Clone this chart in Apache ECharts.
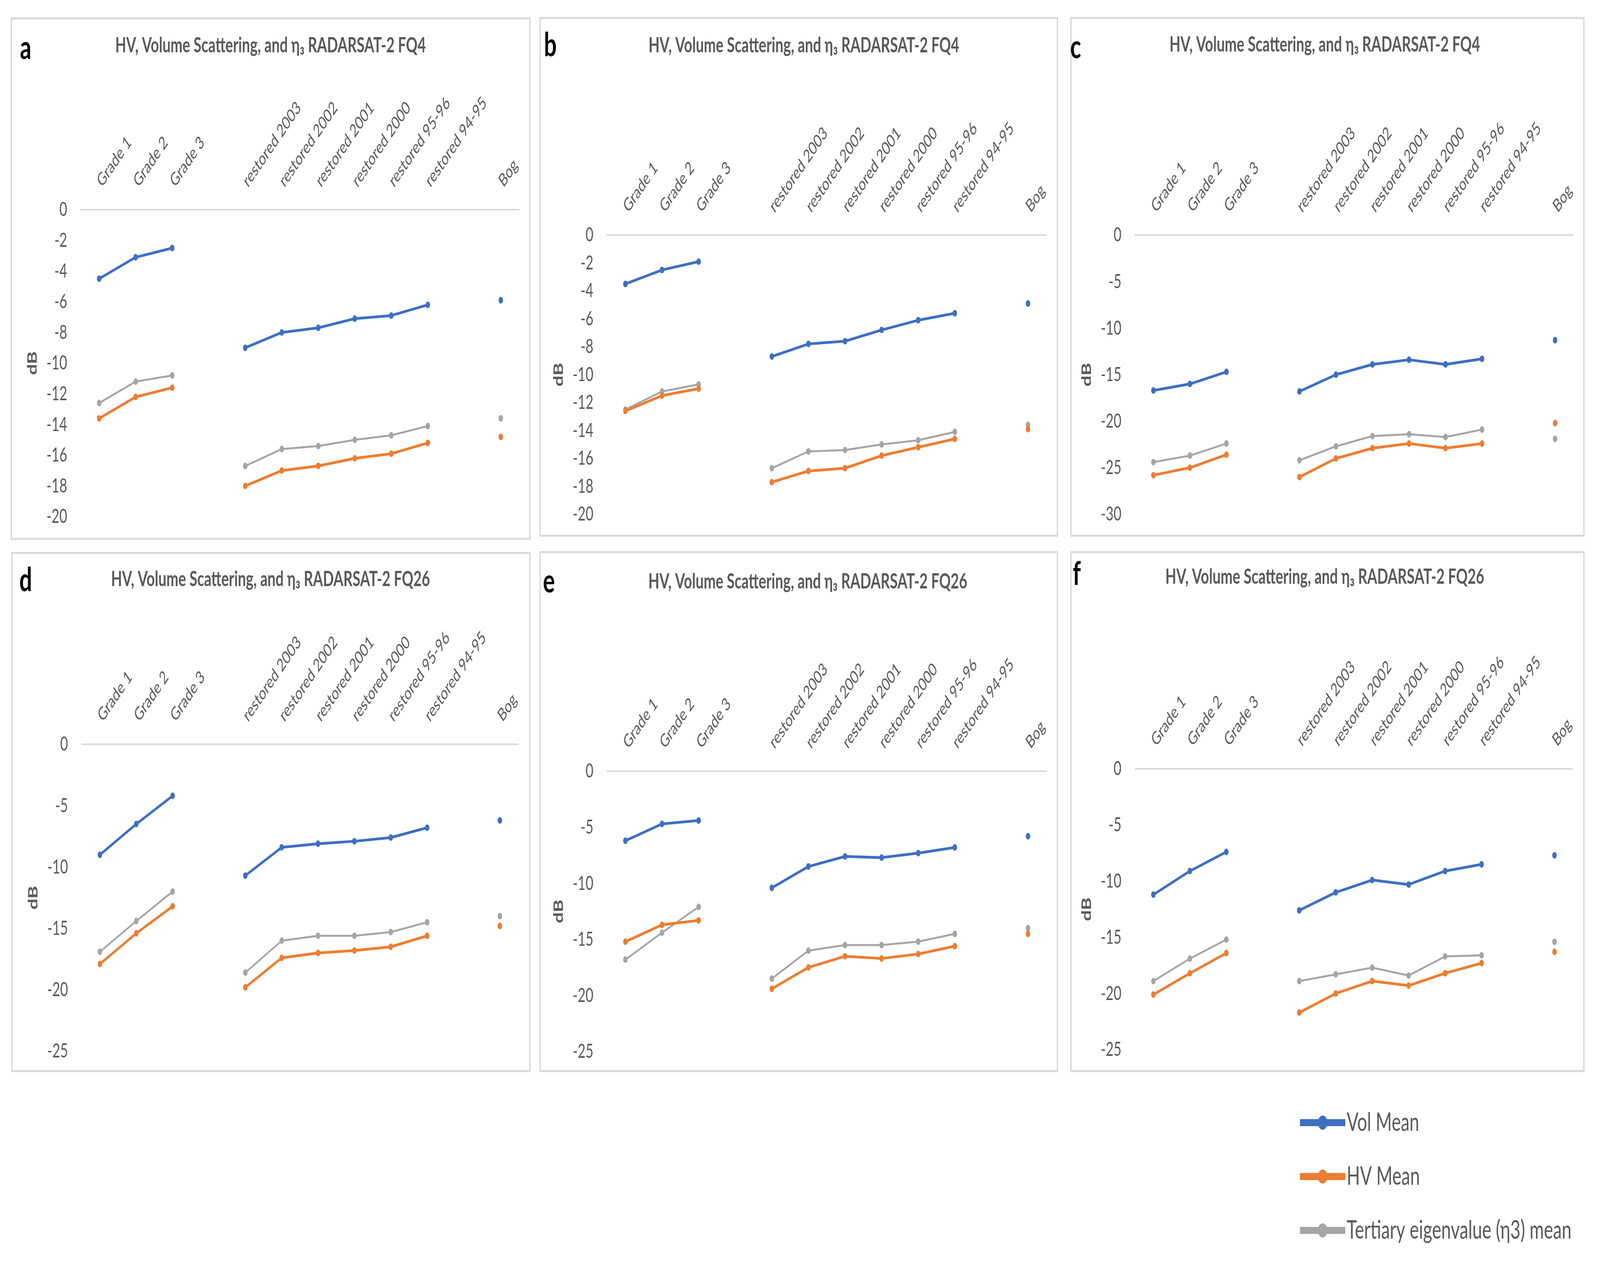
<!DOCTYPE html>
<html><head><meta charset="utf-8">
<script src="https://cdn.jsdelivr.net/npm/echarts@6/dist/echarts.min.js"></script>
<style>
html,body{margin:0;padding:0;background:#fff;overflow:hidden}
#wrap{position:absolute;left:0;top:0;overflow:hidden}
#c{width:6051px;height:3237px;transform-origin:0 0;position:absolute;left:0;top:0}
</style>
</head><body><div id="wrap"><div id="c"></div></div><script>
// ---- categories (blank slots separate the groups) ----
const categories = ['Grade 1','Grade 2','Grade 3','','restored 2003','restored 2002','restored 2001','restored 2000','restored 95-96','restored 94-95','','Bog'];
const seriesNames = ['Vol Mean','HV Mean','Tertiary eigenvalue (η3) mean'];
const panelTitles = ['HV, Volume Scattering, and η₃ RADARSAT-2 FQ4','HV, Volume Scattering, and η₃ RADARSAT-2 FQ4','HV, Volume Scattering, and η₃ RADARSAT-2 FQ4',
  'HV, Volume Scattering, and η₃ RADARSAT-2 FQ26','HV, Volume Scattering, and η₃ RADARSAT-2 FQ26','HV, Volume Scattering, and η₃ RADARSAT-2 FQ26'];
const panelLetters = ['a','b','c','d','e','f'];
// y-axis ranges [min, max, interval]
const yRanges = [[-20,0,2],[-20,0,2],[-30,0,5],[-25,0,5],[-25,0,5],[-25,0,5]];

// ---- values (dB) ----
const volA = [-4.5,-3.1,-2.5,null,-9.0,-8.0,-7.7,-7.1,-6.9,-6.2,null,-5.9];
const hvA  = [-13.6,-12.2,-11.6,null,-18.0,-17.0,-16.7,-16.2,-15.9,-15.2,null,-14.8];
const etaA = [-12.6,-11.2,-10.8,null,-16.7,-15.6,-15.4,-15.0,-14.7,-14.1,null,-13.6];

const volB = [-3.5,-2.5,-1.9,null,-8.7,-7.8,-7.6,-6.8,-6.1,-5.6,null,-4.9];
const hvB  = [-12.6,-11.5,-11.0,null,-17.7,-16.9,-16.7,-15.8,-15.2,-14.6,null,-13.9];
const etaB = [-12.5,-11.2,-10.7,null,-16.7,-15.5,-15.4,-15.0,-14.7,-14.1,null,-13.6];

const volC = [-16.7,-16.0,-14.7,null,-16.8,-15.0,-13.9,-13.4,-13.9,-13.3,null,-11.3];
const hvC  = [-25.8,-25.0,-23.6,null,-26.0,-24.0,-22.9,-22.4,-22.9,-22.4,null,-20.2];
const etaC = [-24.4,-23.7,-22.4,null,-24.2,-22.7,-21.6,-21.4,-21.7,-20.9,null,-21.9];

const volD = [-9.0,-6.5,-4.2,null,-10.7,-8.4,-8.1,-7.9,-7.6,-6.8,null,-6.2];
const hvD  = [-17.9,-15.4,-13.2,null,-19.8,-17.4,-17.0,-16.8,-16.5,-15.6,null,-14.8];
const etaD = [-16.9,-14.4,-12.0,null,-18.6,-16.0,-15.6,-15.6,-15.3,-14.5,null,-14.0];

const volE = [-6.2,-4.7,-4.4,null,-10.4,-8.5,-7.6,-7.7,-7.3,-6.8,null,-5.8];
const hvE  = [-15.2,-13.7,-13.3,null,-19.4,-17.5,-16.5,-16.7,-16.3,-15.6,null,-14.5];
const etaE = [-16.8,-14.4,-12.1,null,-18.5,-16.0,-15.5,-15.5,-15.2,-14.5,null,-14.0];

const volF = [-11.2,-9.1,-7.4,null,-12.6,-11.0,-9.9,-10.3,-9.1,-8.5,null,-7.7];
const hvF  = [-20.1,-18.2,-16.4,null,-21.7,-20.0,-18.9,-19.3,-18.2,-17.3,null,-16.3];
const etaF = [-18.9,-16.9,-15.2,null,-18.9,-18.3,-17.7,-18.4,-16.7,-16.6,null,-15.4];

const panelData = [[volA,hvA,etaA],[volB,hvB,etaB],[volC,hvC,etaC],[volD,hvD,etaD],[volE,hvE,etaE],[volF,hvF,etaF]];

// ---- layout / style (design space 6051 x 3237) ----
const colors = ['#3E6FC2','#ED7D31','#A5A5A5'];
const lineWidths = [7,7,5];
const FONT = 'Lato, "Open Sans", sans-serif';
const TXT = '#595959';
const layout = [
  {grid:{left:306,top:537,width:1657,height:786}, box:[43,47,1961,1333], title:[1023,117], letter:[97,124]},
  {grid:{left:2296,top:602,width:1661,height:715}, box:[2043,46,1956,1326], title:[3040,117], letter:[2081,117]},
  {grid:{left:4293,top:602,width:1657,height:715}, box:[4050,46,1940,1326], title:[5010,115], letter:[4068,122]},
  {grid:{left:309,top:1906,width:1650,height:786}, box:[45,1416,1959,1327], title:[1023,1484], letter:[97,1487]},
  {grid:{left:2296,top:1975,width:1661,height:718}, box:[2043,1414,1956,1329], title:[3055,1490], letter:[2076,1490]},
  {grid:{left:4293,top:1969,width:1655,height:719}, box:[4050,1414,1940,1329], title:[5010,1478], letter:[4072,1471]}
];

// fit the 6051x3237 design into the actual window
const W = window.innerWidth, H = window.innerHeight;
const wrap = document.getElementById('wrap');
wrap.style.width = W + 'px'; wrap.style.height = H + 'px';
document.getElementById('c').style.transform = 'scale(' + (W/6051) + ',' + (H/3237) + ')';

const grids=[], xAxes=[], yAxes=[], series=[], graphics=[];
layout.forEach((L,i)=>{
  grids.push(L.grid);
  xAxes.push({type:'category', gridIndex:i, position:'top', data:categories, boundaryGap:true,
    axisLine:{show:true, lineStyle:{color:'#d9d9d9', width:4}}, axisTick:{show:false},
    axisLabel:{interval:0, rotate:45, margin:66, color:TXT, fontSize:46, fontFamily:FONT}, splitLine:{show:false}});
  const r = yRanges[i];
  yAxes.push({type:'value', gridIndex:i, min:r[0], max:r[1], interval:r[2],
    axisLine:{show:false}, axisTick:{show:false}, splitLine:{show:false},
    axisLabel:{color:TXT, fontSize:51, fontFamily:FONT, margin:52},
    name:'dB', nameLocation:'middle', nameRotate:90, nameGap:158,
    nameTextStyle:{color:TXT, fontSize:50, fontWeight:'bold', fontFamily:FONT}});
  panelData[i].forEach((d,k)=>{
    series.push({type:'line', name:seriesNames[k], xAxisIndex:i, yAxisIndex:i, data:d,
      showSymbol:true, showAllSymbol:true, symbol:'circle', symbolSize:17, connectNulls:false,
      lineStyle:{color:colors[k], width:lineWidths[k]}, itemStyle:{color:colors[k]}, z:3-k, animation:false});
  });
  graphics.push({type:'rect', shape:{x:L.box[0], y:L.box[1], width:L.box[2], height:L.box[3]},
    style:{fill:'none', stroke:'#d9d9d9', lineWidth:5}, silent:true, z:-1});
  graphics.push({type:'text', x:L.title[0], y:L.title[1], style:{text:panelTitles[i], fill:TXT,
    font:'bold 54px '+FONT, textAlign:'center', textVerticalAlign:'middle'}});
  graphics.push({type:'text', x:L.letter[0], y:L.letter[1], style:{text:panelLetters[i], fill:'#000',
    font:'bold 85px '+FONT, textAlign:'center', textVerticalAlign:'middle'}});
});

const chart = echarts.init(document.getElementById('c'), null, {renderer:'canvas', width:6051, height:3237});
chart.setOption({
  backgroundColor:'#fff',
  animation:false,
  grid:grids, xAxis:xAxes, yAxis:yAxes, series:series, graphic:graphics,
  legend:{orient:'vertical', left:4902, top:2837, itemWidth:172, itemHeight:45, itemGap:72,
    data:seriesNames, textStyle:{color:TXT, fontSize:66, lineHeight:64, fontFamily:FONT},
    lineStyle:{width:18}}
});
</script></body></html>
